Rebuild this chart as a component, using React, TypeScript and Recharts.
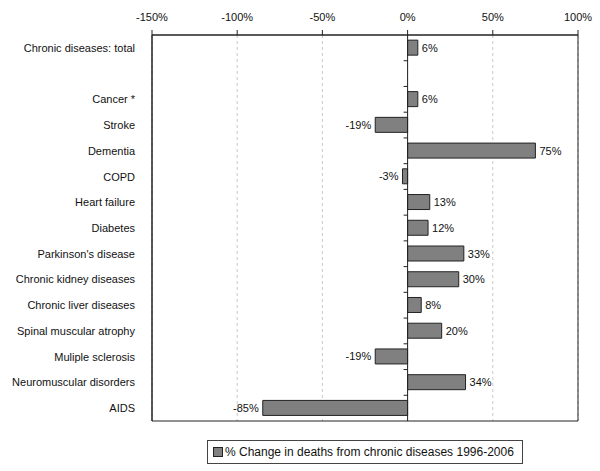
import React from 'react'
import {
  BarChart, Bar, XAxis, YAxis, CartesianGrid, ReferenceLine, ReferenceArea, LabelList, Legend,
} from 'recharts'

const categories = [
  'Chronic diseases: total', '', 'Cancer *', 'Stroke', 'Dementia', 'COPD', 'Heart failure', 'Diabetes',
  "Parkinson's disease", 'Chronic kidney diseases', 'Chronic liver diseases', 'Spinal muscular atrophy',
  'Muliple sclerosis', 'Neuromuscular disorders', 'AIDS',
]
const changes: (number | null)[] = [6, null, 6, -19, 75, -3, 13, 12, 33, 30, 8, 20, -19, 34, -85]
const xTicks = [-150, -100, -50, 0, 50, 100]
const seriesName = '% Change in deaths from chronic diseases 1996-2006'

const data = categories.map((name, i) => ({ name, change: changes[i] }))

const FONT = '"Liberation Sans", Arial, sans-serif'
const W = 600
const H = 471
const M = { top: 0, right: 22, bottom: 26, left: 0 }
const Y_W = 152
const DOMAIN: [number, number] = [-150, 100]

// x of the zero line, used only for the little category ticks on it
const plotW = W - M.left - M.right - Y_W
const zeroX = M.left + Y_W + ((0 - DOMAIN[0]) / (DOMAIN[1] - DOMAIN[0])) * plotW
const bandH = (421 - 35) / categories.length

function CatTick(props: any) {
  const { x, y, payload, index } = props
  return (
    <g>
      <text x={x} y={y} dy={4} textAnchor="end" fontSize={11} fontFamily={FONT} fill="#111">
        {payload.value}
      </text>
      {index > 0 && (
        <line x1={zeroX - 4} x2={zeroX} y1={y - bandH / 2} y2={y - bandH / 2} stroke="#222" />
      )}
    </g>
  )
}

function ValueLabel(props: any) {
  const { x, y, width, height, value } = props
  if (value == null) return null
  const end = x + width
  const neg = value < 0
  return (
    <text
      x={neg ? Math.min(x, end) - 4 : Math.max(x, end) + 4}
      y={y + height / 2}
      dy={4}
      textAnchor={neg ? 'end' : 'start'}
      fontSize={11}
      fontFamily={FONT}
      fill="#111"
    >
      {value}%
    </text>
  )
}

function LegendBox() {
  return (
    <div style={{
      display: 'inline-flex', alignItems: 'center', border: '1px solid #444', padding: '4px 8px 4px 5px',
      fontFamily: FONT, fontSize: 12, color: '#111', background: '#fff', lineHeight: '14px',
    }}>
      <span style={{ width: 8, height: 8, background: '#808080', border: '1px solid #222', marginRight: 2 }} />
      {seriesName}
    </div>
  )
}

export default function App() {
  return (
    <div style={{ position: 'absolute', left: 0, top: 0, width: W, height: H, background: '#fff' }}>
      <BarChart width={W} height={H} data={data} layout="vertical" margin={M} barCategoryGap="20%">
        <CartesianGrid horizontal={false} stroke="#c8c8c8" strokeDasharray="3 3" />
        <XAxis
          type="number"
          orientation="top"
          domain={DOMAIN}
          ticks={xTicks}
          height={35}
          tickFormatter={(v: number) => v + '%'}
          tick={{ fill: '#111', fontSize: 11, fontFamily: FONT }}
          tickSize={5}
          tickMargin={9}
          axisLine={{ stroke: '#222' }}
          tickLine={{ stroke: '#222' }}
          allowDataOverflow
        />
        <YAxis
          type="category"
          dataKey="name"
          width={Y_W}
          tick={<CatTick />}
          tickLine={false}
          tickMargin={11}
          axisLine={{ stroke: '#222' }}
          interval={0}
        />
        <ReferenceArea x1={DOMAIN[0]} x2={DOMAIN[1]} fill="none" stroke="#222" strokeWidth={1} ifOverflow="visible" />
        <ReferenceLine x={0} stroke="#222" />
        <Legend
          verticalAlign="bottom"
          content={<LegendBox />}
          wrapperStyle={{ left: 207, top: 440, width: 'auto', bottom: 'auto' }}
        />
        <Bar dataKey="change" name={seriesName} fill="#808080" stroke="#222" strokeWidth={1} isAnimationActive={false}>
          <LabelList dataKey="change" content={<ValueLabel />} />
        </Bar>
      </BarChart>
    </div>
  )
}
